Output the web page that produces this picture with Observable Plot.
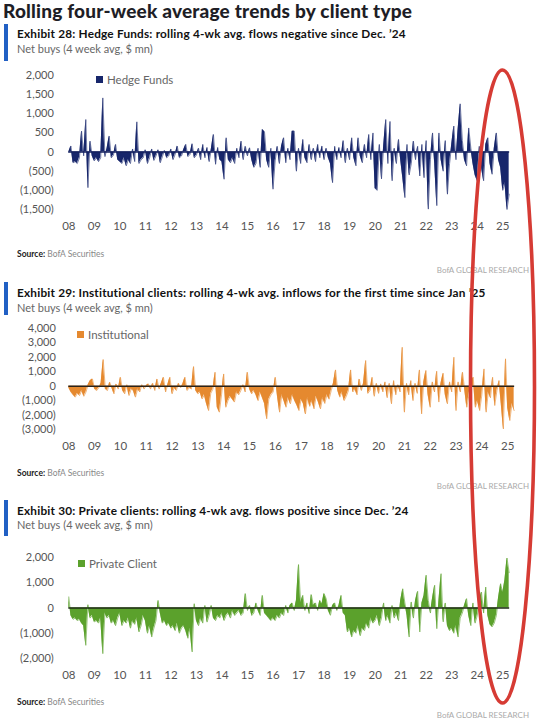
<!DOCTYPE html>
<html><head><meta charset="utf-8">
<script src="https://cdn.jsdelivr.net/npm/d3@7"></script>
<script src="https://cdn.jsdelivr.net/npm/@observablehq/plot@0.6"></script>
<style>
body{margin:0;background:#fff;font-family:Lato,"Open Sans",sans-serif;}
#page{position:relative;width:540px;height:723px;overflow:hidden;background:#fff;}
.abs{position:absolute;white-space:nowrap;line-height:1;}
.title{left:3px;top:0px;font-size:19px;line-height:1.2;letter-spacing:0.2px;font-weight:900;color:#1e1e26;}
.bar{left:3.5px;width:4px;background:#2160c4;}
.ex{left:17px;font-size:11.8px;letter-spacing:0.2px;font-weight:700;color:#111;}
.sub{left:17px;font-size:11px;color:#666;}
.src{left:17px;font-size:8.5px;color:#888;}
.src b{color:#222;font-weight:700;}
.bofa{right:11px;font-size:8px;color:#aaa;}
.leg{font-size:11.5px;color:#666;display:flex;align-items:center;}
.leg i{display:inline-block;width:7px;height:7px;margin-right:4px;}
.plot{position:absolute;left:0;}
svg.ov{position:absolute;left:0;top:0;pointer-events:none;}
</style></head>
<body>
<div id="page"></div>
<script>
// ---- data (monthly, starting Jan 2008) ----
const startYear = 2008;
const yearTicks = [2008,2009,2010,2011,2012,2013,2014,2015,2016,2017,2018,2019,2020,2021,2022,2023,2024,2025];
const tickLabels = ["08","09","10","11","12","13","14","15","16","17","18","19","20","21","22","23","24","25"];
const hfTicks = [-1500,-1000,-500,0,500,1000,1500,2000];
const instTicks = [-3000,-2000,-1000,0,1000,2000,3000,4000];
const privTicks = [-2000,-1000,0,1000,2000];

const hedgeFunds = [
0,156,-280,-250,-300,-150,547,-100,850,-930,286,-100,
-230,-150,-250,-150,1415,-120,100,417,-150,-80,200,-200,
-250,-300,-150,-360,-200,-300,80,-250,790,-300,-200,-150,
60,-300,-150,80,-220,-100,60,-280,-120,40,-150,-100,
80,-200,-60,156,-150,-100,60,200,-120,-60,217,-150,
-80,100,-200,200,-150,120,-250,80,460,-320,120,-200,
-250,-710,373,-200,-280,-150,-300,100,-150,286,-200,150,
-100,110,-200,-400,-300,100,-400,590,530,-200,-400,100,
-970,-230,150,-300,150,373,-280,100,-200,547,547,-500,
100,-300,330,-150,-280,200,-200,100,-250,200,-150,156,
-200,100,-150,-300,-800,150,-200,120,-150,300,-280,100,
-200,373,-150,-360,373,-100,-280,200,-150,460,-200,500,
-950,-1000,200,-700,150,850,-300,800,-750,100,-300,330,
-200,-670,-1190,200,-600,-300,286,-200,150,-625,200,-670,
300,-1490,-200,500,-300,-1400,500,-200,-500,300,-1100,-300,
200,680,-200,590,1260,300,-200,-360,630,100,-300,-600,
-750,150,-400,-750,200,373,-300,-580,100,500,-200,-400,
-1000,-800,-1500,-1100];

const institutional = [
-100,-400,-600,-760,-500,-650,-300,-700,-400,100,390,500,
-200,-300,-100,200,1850,-200,-300,280,-100,-530,150,-200,
620,-300,-530,100,-650,-200,-300,-760,-200,-400,100,-200,
50,160,-200,200,-300,500,-200,200,620,-400,100,620,
-530,-100,-300,200,-100,150,620,-300,-100,-200,1360,-300,
-530,-400,-880,-600,-1200,-1690,-500,-200,970,-1460,-1800,-600,
850,-1460,-1000,-700,-900,-1100,-400,-600,-300,100,-400,970,
-200,-530,-300,-600,-1000,-400,-800,-1200,-2260,-900,-600,-400,
620,-700,-1800,-600,-1000,-1460,-800,-1220,-600,-1000,-1300,-1690,
-900,-1200,-1920,-800,-1400,-1000,-1570,-700,-1100,-1570,-800,-1200,
-600,-900,-300,200,1130,-300,-760,-400,-1000,-700,-300,1130,
-400,-200,-600,500,-300,200,1780,-500,-300,620,-700,200,
-500,160,-400,300,-800,200,-1220,390,-600,100,-400,2700,
-1800,200,-600,390,-1000,200,-500,1130,-1920,300,1090,-600,
-1460,300,-400,1040,-1100,200,900,-600,-1220,300,-400,2010,
-1690,300,-400,970,-200,-1460,-600,300,620,-1460,-1000,-1690,
-600,1200,-1800,-400,-800,620,-1340,-300,390,-1200,-2960,1900,
-1500,-2380,-1200,-1690];

const privateClient = [
440,-300,-450,-400,-500,-450,-600,-700,-1480,130,-400,-300,
-550,-500,-600,-400,-1810,-200,-400,-300,-600,-500,-700,-400,
-200,-700,-500,-600,-400,-800,-500,-650,-400,-950,-700,-300,
-500,-1000,-700,-1150,-800,-500,300,-200,-600,-500,-700,-600,
-800,-700,-900,-600,-1000,-800,-700,-900,-1200,-800,-1740,170,
-500,-700,-400,-600,100,-560,-300,100,-400,-500,-300,-400,
-200,-500,-300,-200,-400,-100,-300,-200,-100,-300,-200,570,
-100,100,-300,-200,200,-100,-300,500,-200,-300,-400,-500,
-400,-500,-300,-400,-200,-300,100,-200,100,200,-100,300,
1720,200,500,-100,200,-220,530,100,200,-100,300,150,
570,370,-100,-290,100,200,-100,100,500,-200,-300,-950,
-800,-1150,-900,-1000,-700,-1100,-800,-900,-600,-800,-400,-600,
-500,-300,-700,-400,200,-500,-300,-600,100,-400,-200,-500,
300,760,200,-300,-1150,240,-400,300,660,-950,200,500,
1300,300,-200,400,900,-820,300,1360,-550,200,-700,-900,
-800,-1000,-700,-1150,-400,-200,100,370,-300,-700,200,-600,
-300,300,630,-200,830,-300,-650,-750,-600,-300,400,960,
600,1100,1980,1400];

// ---- layout ----
const page = document.getElementById("page");
function add(cls, css, html){
  const d = document.createElement("div");
  d.className = "abs " + cls;
  Object.assign(d.style, css);
  d.innerHTML = html;
  page.appendChild(d);
  return d;
}
const fmtY = d => d < 0 ? "(" + d3.format(",")(-d) + ")" : d3.format(",")(d);

add("title", {}, "Rolling four-week average trends by client type");

function panel(o){
  add("bar", {top: o.barTop + "px", height: o.barH + "px"}, "");
  add("ex", {top: o.exTop + "px"}, o.exText);
  add("sub", {top: o.subTop + "px"}, "Net buys (4 week avg, $ mn)");
  const data = o.values.map((v, i) => ({t: startYear + i / 12, v}));
  const last = data[data.length - 1].t + 0.02;
  const chart = Plot.plot({
    width: 540, height: o.height,
    marginTop: 15, marginBottom: 30, marginLeft: 68.3, marginRight: o.marginRight,
    x: {domain: [2008, 2026]},
    y: {domain: o.domain},
    style: {fontFamily: "Lato, sans-serif", background: "transparent", overflow: "visible"},
    marks: [
      Plot.areaY(data, {x: "t", y: "v", fill: o.color}),
      Plot.lineY(data, {x: "t", y: "v", stroke: o.color, strokeWidth: 0.6}),
      Plot.ruleY([{y: 0, a: 2008, b: last}], {y: "y", x1: "a", x2: "b", stroke: o.zero, strokeWidth: 1.6}),
      Plot.axisX({ticks: yearTicks, tickSize: 0, tickPadding: 12, tickFormat: d => tickLabels[yearTicks.indexOf(d)], fontSize: 11.5, fill: "#555"}),
      Plot.axisY({ticks: o.ticks, tickSize: 0, tickPadding: o.pad, tickFormat: fmtY, fontSize: 11, fill: "#555"})
    ]
  });
  chart.classList.add("plot");
  chart.style.top = o.top + "px";
  page.appendChild(chart);
  add("leg", {left: o.legX + "px", top: o.legTop + "px"}, `<i style="background:${o.color}"></i>${o.label}`);
  add("src", {top: o.srcTop + "px"}, "<b>Source:</b> BofA Securities");
  add("bofa", {top: o.bofaTop + "px"}, "BofA GLOBAL RESEARCH");
}

panel({
  barTop: 24, barH: 37, exTop: 28.3, subTop: 42.9,
  exText: "Exhibit 28: Hedge Funds: rolling 4-wk avg. flows negative since Dec. \u201924",
  values: hedgeFunds, color: "#17266b", zero: "#14205e",
  domain: [-1500, 2000], ticks: hfTicks, top: 60, height: 179, marginRight: 12.2, pad: 15,
  label: "Hedge Funds", legX: 96, legTop: 74,
  srcTop: 250, bofaTop: 265.5
});
panel({
  barTop: 281.5, barH: 33, exTop: 286.5, subTop: 302.2,
  exText: "Exhibit 29: Institutional clients: rolling 4-wk avg. inflows for the first time since Jan \u201925",
  values: institutional, color: "#e5892f", zero: "#2a2218",
  domain: [-3000, 4000], ticks: instTicks, top: 313, height: 146, marginRight: 7, pad: 13,
  label: "Institutional", legX: 77, legTop: 329,
  srcTop: 469, bofaTop: 481.5
});
panel({
  barTop: 499.7, barH: 36, exTop: 504.7, subTop: 519.2,
  exText: "Exhibit 30: Private clients: rolling 4-wk avg. flows positive since Dec. \u201924",
  values: privateClient, color: "#5ba12c", zero: "#1e2a16",
  domain: [-2000, 2000], ticks: privTicks, top: 542, height: 146, marginRight: 12.2, pad: 15,
  label: "Private Client", legX: 78, legTop: 558,
  srcTop: 698.3, bofaTop: 710.5
});

// red highlight ellipse annotation
const ns = "http://www.w3.org/2000/svg";
const ov = document.createElementNS(ns, "svg");
ov.setAttribute("class", "ov");
ov.setAttribute("width", 540); ov.setAttribute("height", 723);
const el = document.createElementNS(ns, "ellipse");
el.setAttribute("cx", 502.5); el.setAttribute("cy", 386.5);
el.setAttribute("rx", 32); el.setAttribute("ry", 316.5);
el.setAttribute("fill", "none"); el.setAttribute("stroke", "#d63b34"); el.setAttribute("stroke-width", 3.6);
ov.appendChild(el);
page.appendChild(ov);
</script>
</body></html>
